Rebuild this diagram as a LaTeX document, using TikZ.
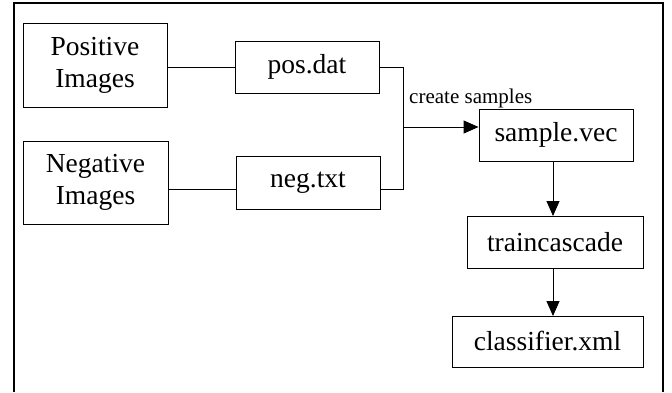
\documentclass[tikz,border=0pt]{standalone}
\usepackage{fontspec}
\setmainfont{Liberation Serif}
\usetikzlibrary{arrows.meta}

\begin{document}
\begin{tikzpicture}[x=1pt,y=-1pt]
\tikzstyle{file} = [rectangle, draw=black, line width=0.9pt, inner sep=0pt, align=center, font=\fontsize{27.5}{32}\selectfont]
\tikzstyle{line} = [line width=0.9pt]
\tikzstyle{arrow} = [line width=0.9pt, -{Triangle[length=15pt,width=13pt]}]

\useasboundingbox (0,0) rectangle (672,392);
\draw [line width=2pt] (14,392) -- (14,3) -- (663,3) -- (663,392);

\node (pos) [file, minimum width=144pt, minimum height=84pt] at (95,65) {Positive\\Images};
\node (neg) [file, minimum width=145pt, minimum height=83pt] at (95.5,182.5) {Negative\\Images};
\node (posdat) [file, minimum width=144pt, minimum height=52pt] at (307,67) {pos.dat};
\node (negtxt) [file, minimum width=144pt, minimum height=53pt] at (308,182.5) {neg.txt};
\node (vec) [file, minimum width=154pt, minimum height=52pt] at (556,135) {sample.vec};
\node (train) [file, minimum width=176pt, minimum height=52pt] at (555,242) {traincascade};
\node (cls) [file, minimum width=191pt, minimum height=51pt] at (547.5,341.5) {classifier.xml};
\node (lbl) [anchor=base west, inner sep=0pt, font=\fontsize{21}{24}\selectfont] at (409,103) {create samples};

\coordinate (split) at (403,127);

\draw [line] (pos.east |- posdat.west) -- (posdat.west);
\draw [line] ([yshift=-6.5pt]neg.east) -- ([yshift=-6.5pt]negtxt.west);
\draw [line] (posdat.east) -| (split);
\draw [line] ([yshift=-6.5pt]negtxt.east) -| (split);
\draw [arrow] (split) -- (split -| vec.west);
\draw [arrow] (553,161) -- (553,216);
\draw [arrow] (train.south -| 553,0) -- (553,316);
\end{tikzpicture}
\end{document}
